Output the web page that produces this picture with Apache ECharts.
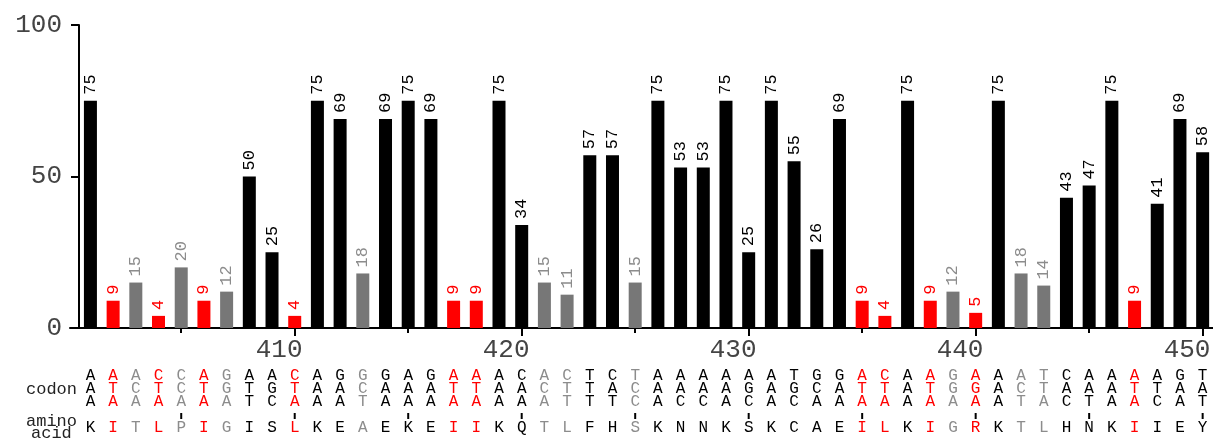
<!DOCTYPE html>
<html>
<head>
<meta charset="utf-8">
<script src="https://cdn.jsdelivr.net/npm/echarts@6/dist/echarts.min.js"></script>
<style>
  html, body { margin: 0; padding: 0; background: #fff; }
  #chart { width: 1213px; height: 443px; }
</style>
</head>
<body>
<div id="chart"></div>
<script>
// Residue numbering of the first column
const startPos = 401;

// Per-residue score
const scores = [
  75, 9, 15, 4, 20, 9, 12, 50, 25, 4,
  75, 69, 18, 69, 75, 69, 9, 9, 75, 34,
  15, 11, 57, 57, 15, 75, 53, 53, 75, 25,
  75, 55, 26, 69, 9, 4, 75, 9, 12, 5,
  75, 18, 14, 43, 47, 75, 9, 41, 69, 58
];

// Codon for each residue (read top to bottom)
const codons = [
  'AAA','ATA','ACA','CTA','CCA','ATA','GGA','ATT','AGC','CTA',
  'AAA','GAA','GCT','GAA','AAA','GAA','ATA','ATA','AAA','CAA',
  'ACA','CTT','TTT','CAT','TCC','AAA','AAC','AAC','AAA','AGC',
  'AAA','TGC','GCA','GAA','ATA','CTA','AAA','ATA','GGA','AGA',
  'AAA','ACT','TTA','CAC','AAT','AAA','ATA','ATC','GAA','TAT'
];

// Translated amino acid
const aminoAcids = [
  'K','I','T','L','P','I','G','I','S','L',
  'K','E','A','E','K','E','I','I','K','Q',
  'T','L','F','H','S','K','N','N','K','S',
  'K','C','A','E','I','L','K','I','G','R',
  'K','T','L','H','N','K','I','I','E','Y'
];

// Class of each residue: k = conserved, r = flagged, g = weak
const classes = [
  'k','r','g','r','g','r','g','k','k','r',
  'k','k','g','k','k','k','r','r','k','k',
  'g','g','k','k','g','k','k','k','k','k',
  'k','k','k','k','r','r','k','r','g','r',
  'k','g','g','k','k','k','r','k','k','k'
];

// Axis ticks
const yTicks = [0, 50, 100];
const minorTicks = [405, 415, 425, 435, 445];
const majorTicks = [410, 420, 430, 440, 450];

const barColor = { k: '#000000', r: '#ff0000', g: '#777777' };
const textColor = { k: '#000000', r: '#ff0000', g: '#8c8c8c' };
const MONO = '"Liberation Mono", "DejaVu Sans Mono", monospace';

const positions = scores.map((_, i) => startPos + i);

const barData = scores.map((v, i) => ({
  value: [positions[i], v],
  itemStyle: { color: barColor[classes[i]] },
  label: { color: textColor[classes[i]] }
}));

const seqData = positions.map((p, i) => [p, 0, i]);

const chart = echarts.init(document.getElementById('chart'), null, { renderer: 'canvas' });

const xRange = { min: 400.1, max: 450.5 };

chart.setOption({
  animation: false,
  backgroundColor: '#ffffff',
  grid: { left: 70, top: 25, width: 1144, bottom: 115, containLabel: false, outerBoundsMode: 'none' },
  xAxis: [
    {
      type: 'value', position: 'bottom', ...xRange,
      axisLine: { show: true, lineStyle: { color: '#000', width: 2 } },
      axisTick: { show: true, length: 5, lineStyle: { color: '#000', width: 2 }, customValues: minorTicks },
      axisLabel: { show: false },
      splitLine: { show: false }
    },
    {
      type: 'value', position: 'bottom', ...xRange,
      axisLine: { show: false },
      axisTick: { show: true, length: 8, lineStyle: { color: '#000', width: 2 }, customValues: majorTicks },
      axisLabel: {
        show: true, customValues: majorTicks, margin: 9,
        fontFamily: MONO, fontSize: 26, color: '#444',
        formatter: v => v + '  '
      },
      splitLine: { show: false }
    }
  ],
  yAxis: {
    type: 'value', min: 0, max: 100, interval: 50, offset: -9,
    axisLine: { show: true, lineStyle: { color: '#000', width: 2 } },
    axisTick: { show: true, length: 8, lineStyle: { color: '#000', width: 2 } },
    axisLabel: {
      margin: 17, fontFamily: MONO, fontSize: 26, color: '#444',
      customValues: yTicks
    },
    splitLine: { show: false }
  },
  graphic: [
    { type: 'text', left: 26, top: 381, style: { text: 'codon', font: '17px ' + MONO, fill: '#222' } },
    { type: 'text', left: 26, top: 413, style: { text: 'amino', font: '17px ' + MONO, fill: '#222' } },
    { type: 'text', left: 31, top: 425, style: { text: 'acid', font: '17px ' + MONO, fill: '#222' } }
  ],
  series: [
    {
      type: 'bar',
      xAxisIndex: 0,
      barWidth: 13,
      data: barData,
      label: {
        show: true, position: 'top', rotate: 90, distance: 6,
        align: 'left', verticalAlign: 'middle',
        fontFamily: MONO, fontSize: 17,
        formatter: p => String(p.value[1])
      }
    },
    {
      type: 'custom',
      xAxisIndex: 0,
      clip: false,
      silent: true,
      encode: { x: 0, y: 1 },
      data: seqData,
      renderItem: function (params, api) {
        const i = api.value(2);
        const pt = api.coord([api.value(0), 0]);
        const col = textColor[classes[i]];
        const font = '16px ' + MONO;
        const children = [];
        const rows = [48, 61, 74];
        for (let r = 0; r < 3; r++) {
          children.push({
            type: 'text',
            style: {
              x: pt[0], y: pt[1] + rows[r], text: codons[i][r], fill: col, font: font,
              align: 'center', verticalAlign: 'middle', textAlign: 'center', textVerticalAlign: 'middle'
            }
          });
        }
        if (positions[i] % 5 === 0) {
          children.push({
            type: 'rect',
            shape: { x: pt[0] - 1, y: pt[1] + 85, width: 2, height: 6 },
            style: { fill: '#000' }
          });
        }
        children.push({
          type: 'text',
          style: {
            x: pt[0], y: pt[1] + 100, text: aminoAcids[i], fill: col, font: font,
            align: 'center', verticalAlign: 'middle', textAlign: 'center', textVerticalAlign: 'middle'
          }
        });
        return { type: 'group', children: children };
      }
    }
  ]
});
</script>
</body>
</html>
